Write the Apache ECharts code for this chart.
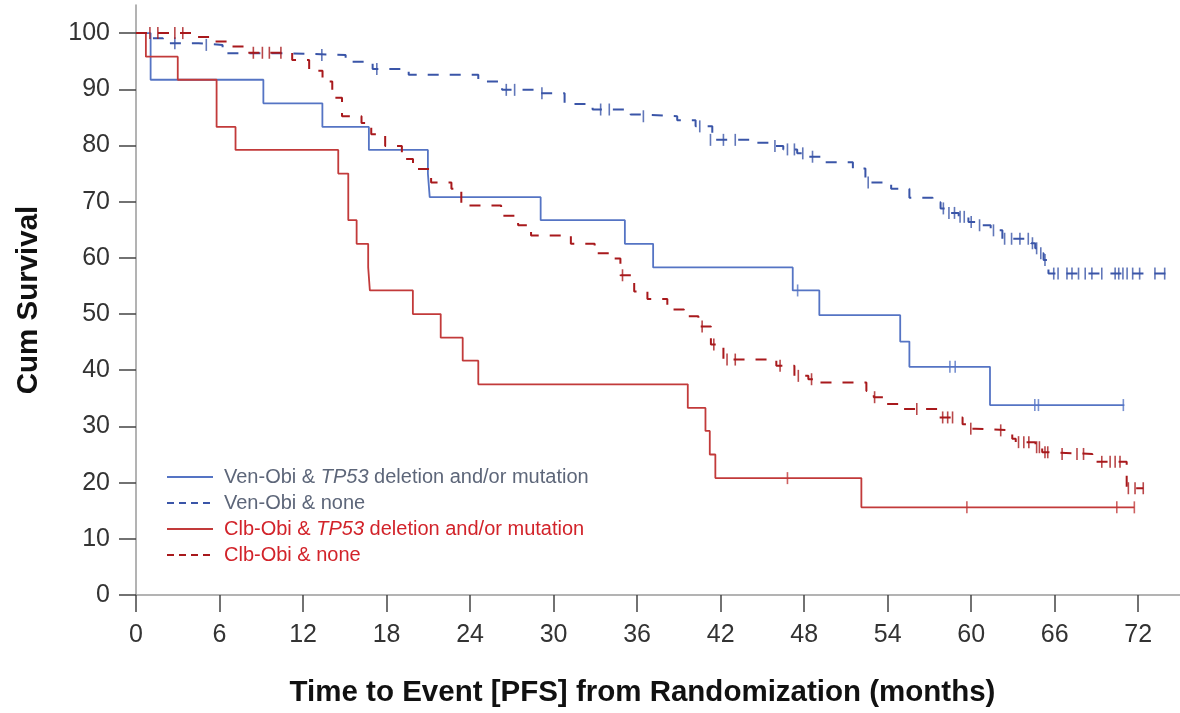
<!DOCTYPE html>
<html>
<head>
<meta charset="utf-8">
<script src="https://cdn.jsdelivr.net/npm/echarts@6/dist/echarts.min.js"></script>
<style>
html,body{margin:0;padding:0;background:#fff;}
#chart{width:1180px;height:713px;}
</style>
</head>
<body>
<div id="chart"></div>
<script>
// Tick labels
const xTicks = [0, 6, 12, 18, 24, 30, 36, 42, 48, 54, 60, 66, 72];
const yTicks = [0, 10, 20, 30, 40, 50, 60, 70, 80, 90, 100];

// Series names
const seriesNames = [
  'Ven-Obi & TP53 deletion and/or mutation',
  'Ven-Obi & none',
  'Clb-Obi & TP53 deletion and/or mutation',
  'Clb-Obi & none'
];

// Ven-Obi & TP53: step curve [month, survival %]
const venTP53 = [[0,100],[1.05,91.7],[9.15,87.5],[13.39,83.3],[16.73,79.2],[20.97,75.0],[21.1,70.8],[29.07,66.7],[35.12,62.5],[37.15,58.3],[47.18,54.2],[49.09,49.8],[54.9,45.1],[55.56,40.6],[61.35,33.8],[71.0,33.8]];
const venTP53Cens = [[47.53,54.2],[58.47,40.6],[58.85,40.6],[64.57,33.8],[64.83,33.8],[70.93,33.8]];

// Ven-Obi & none
const venNone = [[0,100],[1.0,99.1],[1.93,98.2],[4.5,97.9],[6.22,96.4],[11.0,96.1],[15.06,94.9],[17.0,93.6],[19.59,92.6],[24.59,91.4],[26.3,89.9],[28.8,89.3],[30.79,87.4],[32.8,86.4],[35.53,85.5],[36.2,85.2],[38.88,84.5],[40.2,83.4],[41.4,81.0],[44.6,80.5],[45.7,79.9],[46.5,79.3],[47.5,78.6],[48.3,78.0],[49.5,77.0],[51.5,75.9],[52.4,73.4],[54.25,72.3],[55.56,70.7],[57.23,69.9],[57.8,68.8],[58.3,68.0],[59.1,67.3],[59.8,66.4],[60.33,65.8],[61.4,64.9],[62.24,63.4],[64.3,62.6],[64.6,61.7],[64.9,60.8],[65.2,59.6],[65.55,57.2],[74.15,57.2]];
const venNoneCens = [[2.79,98.2],[5.05,97.9],[13.35,96.1],[17.3,93.6],[26.6,89.9],[27.2,89.9],[29.16,89.3],[33.38,86.4],[34.0,86.4],[36.45,85.2],[40.5,83.4],[41.27,81.0],[42.2,81.0],[43.05,81.0],[45.9,79.9],[46.8,79.3],[47.3,79.3],[47.9,78.6],[48.6,78.0],[52.6,73.4],[58.0,68.8],[58.4,68.0],[58.8,68.0],[59.2,67.3],[59.5,67.3],[60.0,66.4],[60.6,65.8],[61.6,64.9],[62.4,63.4],[62.9,63.4],[63.5,63.4],[64.1,63.4],[64.4,62.6],[64.7,61.7],[65.0,60.8],[65.3,59.6],[65.93,57.2],[66.24,57.2],[66.88,57.2],[67.24,57.2],[67.71,57.2],[68.19,57.2],[68.67,57.2],[69.38,57.2],[70.34,57.2],[70.6,57.2],[70.9,57.2],[71.2,57.2],[71.6,57.2],[72.1,57.2],[73.2,57.2],[73.9,57.2]];

// Clb-Obi & TP53
const clbTP53 = [[0,100],[0.71,95.8],[3.0,91.7],[5.79,83.3],[7.15,79.2],[14.53,75.0],[15.25,66.7],[15.85,62.5],[16.68,58.3],[16.8,54.2],[19.89,50.0],[21.89,45.8],[23.47,41.7],[24.59,37.5],[39.64,33.3],[40.91,29.2],[41.22,25.0],[41.62,20.8],[52.11,15.6],[71.72,15.6]];
const clbTP53Cens = [[46.8,20.8],[59.69,15.6],[70.46,15.6],[71.72,15.6]];

// Clb-Obi & none
const clbNone = [[0,100],[4.22,99.3],[5.5,98.5],[6.72,97.6],[8.0,96.5],[11.22,95.2],[12.44,93.3],[13.4,91.4],[14.1,88.5],[14.8,85.2],[16.2,84.0],[16.9,82.0],[17.9,79.9],[19.1,77.6],[19.9,75.8],[21.2,73.4],[22.66,72.3],[23.37,69.3],[26.23,67.5],[27.45,65.8],[28.38,64.0],[31.24,62.5],[32.95,60.8],[34.38,59.9],[34.8,56.9],[35.79,54.0],[36.74,52.7],[38.17,50.8],[39.36,49.6],[40.4,47.8],[41.3,44.6],[42.2,41.9],[46.0,40.8],[47.3,39.0],[48.3,38.4],[49.0,37.8],[52.47,36.3],[53.0,35.2],[53.78,34.0],[54.83,33.1],[57.6,31.6],[59.38,30.4],[59.9,29.6],[60.3,29.3],[62.95,27.8],[63.2,27.2],[64.62,26.3],[65.1,25.4],[65.57,25.1],[68.7,23.7],[71.17,19.0],[72.36,19.0]];
const clbNoneCens = [[1.0,100],[1.57,100],[2.79,100],[3.36,100],[8.43,96.5],[9.08,96.5],[9.58,96.5],[10.41,96.5],[34.95,56.9],[40.67,47.8],[41.51,44.6],[42.46,41.9],[43.05,41.9],[46.27,40.8],[47.58,39.0],[48.53,38.4],[53.06,35.2],[56.09,33.1],[57.95,31.6],[58.31,31.6],[58.66,31.6],[59.97,29.6],[62.12,29.3],[63.4,27.2],[63.78,27.2],[64.14,27.2],[64.7,26.3],[64.9,26.3],[65.3,25.4],[65.5,25.4],[66.53,25.1],[67.6,25.1],[68.07,25.1],[69.38,23.7],[69.98,23.7],[70.34,23.7],[70.69,23.7],[71.29,19.0],[71.77,19.0],[72.36,19.0]];

const FONT = '"Liberation Sans", Arial, Helvetica, sans-serif';
const C_VEN_SOLID = '#5574c4';
const C_VEN_DASH = '#3a55a8';
const C_CLB_SOLID = '#c23a3a';
const C_CLB_DASH = '#a8191c';
const C_VEN_TEXT = '#5d6679';
const C_CLB_TEXT = '#d2232a';

function lineSeries(name, data, color, dashed) {
  return {
    name: name, type: 'line', step: 'end', data: data,
    symbol: 'none', showSymbol: false, animation: false,
    lineStyle: { color: color, width: dashed ? 2 : 1.8, type: dashed ? [11, 11] : 'solid' },
    itemStyle: { color: color },
    z: 2
  };
}
function censSeries(data, color) {
  return {
    type: 'scatter', data: data, symbol: 'rect', symbolSize: [1.6, 12],
    itemStyle: { color: color }, animation: false, silent: true, z: 3
  };
}

const legendItem = (name, color, dashed) => ({
  name: name,
  itemStyle: { opacity: 0 },
  lineStyle: dashed ? { type: [7, 5], width: 2 } : { width: 2 },
  textStyle: {
    color: color, fontSize: 20, fontFamily: FONT,
    rich: { i: { fontStyle: 'italic', color: color, fontSize: 20, fontFamily: FONT } }
  }
});

const chart = echarts.init(document.getElementById('chart'), null, { renderer: 'canvas' });
chart.setOption({
  backgroundColor: '#ffffff',
  animation: false,
  grid: { left: 136, top: 5, width: 1049, height: 594, containLabel: false },
  legend: {
    orient: 'vertical', left: 166, top: 467,
    itemWidth: 46, itemHeight: 14, itemGap: 6,
    padding: 0,
    itemStyle: { opacity: 0 },
    textStyle: { fontSize: 20, fontFamily: FONT, padding: [0, 0, 0, 6] },
    formatter: (n) => n.replace('TP53', '{i|TP53}'),
    data: [
      legendItem(seriesNames[0], C_VEN_TEXT, false),
      legendItem(seriesNames[1], C_VEN_TEXT, true),
      legendItem(seriesNames[2], C_CLB_TEXT, false),
      legendItem(seriesNames[3], C_CLB_TEXT, true)
    ]
  },
  xAxis: {
    type: 'value', min: 0, max: 75,
    name: 'Time to Event [PFS] from Randomization (months)',
    nameLocation: 'middle', nameGap: 83,
    nameTextStyle: { fontSize: 29.5, fontWeight: 'bold', color: '#111', fontFamily: FONT, padding: [0, 31, 0, 0] },
    axisLine: { onZero: false, lineStyle: { color: '#9a9a9a', width: 1.5 } },
    axisTick: { show: true, length: 17, customValues: xTicks, lineStyle: { color: '#444', width: 1.5 } },
    axisLabel: { customValues: xTicks, fontSize: 25, color: '#333', fontFamily: FONT, margin: 28 },
    splitLine: { show: false }
  },
  yAxis: {
    type: 'value', min: 0, max: 105,
    name: 'Cum Survival',
    nameLocation: 'middle', nameGap: 92,
    nameTextStyle: { fontSize: 29.5, fontWeight: 'bold', color: '#111', fontFamily: FONT },
    axisLine: { show: true, onZero: false, lineStyle: { color: '#9a9a9a', width: 1.5 } },
    axisTick: { show: true, length: 17, customValues: yTicks, lineStyle: { color: '#444', width: 1.5 } },
    axisLabel: { customValues: yTicks, fontSize: 25, color: '#333', fontFamily: FONT, margin: 26 },
    splitLine: { show: false }
  },
  series: [
    lineSeries(seriesNames[0], venTP53, C_VEN_SOLID, false),
    lineSeries(seriesNames[1], venNone, C_VEN_DASH, true),
    lineSeries(seriesNames[2], clbTP53, C_CLB_SOLID, false),
    lineSeries(seriesNames[3], clbNone, C_CLB_DASH, true),
    censSeries(venTP53Cens, C_VEN_SOLID),
    censSeries(venNoneCens, C_VEN_DASH),
    censSeries(clbTP53Cens, C_CLB_SOLID),
    censSeries(clbNoneCens, C_CLB_DASH)
  ]
});
</script>
</body>
</html>
